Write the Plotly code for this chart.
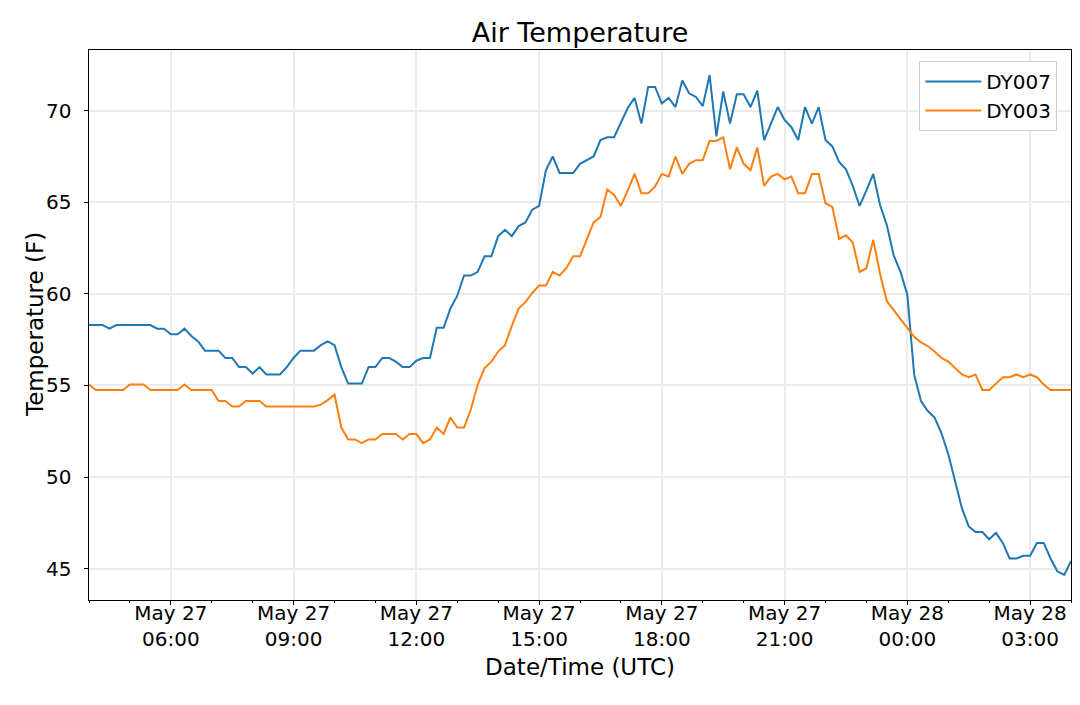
import pandas as pd
import plotly.graph_objects as go

# horários das leituras (a cada 10 minutos, 04:00 do dia 27 até 04:00 do dia 28)
tempos = pd.date_range("2019-05-27 04:00", "2019-05-28 04:00", freq="10min")

# temperatura do ar (F) estação DY007
dy007 = [58.3, 58.3, 58.3, 58.1, 58.3, 58.3, 58.3, 58.3, 58.3, 58.3,
         58.1, 58.1, 57.8, 57.8, 58.1, 57.7, 57.4, 56.9, 56.9, 56.9,
         56.5, 56.5, 56.0, 56.0, 55.65, 56.0, 55.6, 55.6, 55.6, 56.0,
         56.5, 56.9, 56.9, 56.9, 57.2, 57.4, 57.2, 56.0, 55.1, 55.1,
         55.1, 56.0, 56.0, 56.5, 56.5, 56.3, 56.0, 56.0, 56.35, 56.5,
         56.5, 58.15, 58.15, 59.2, 59.9, 61.0, 61.0, 61.2, 62.05, 62.05,
         63.15, 63.5, 63.15, 63.7, 63.9, 64.6, 64.8, 66.75, 67.5, 66.6,
         66.6, 66.6, 67.1, 67.3, 67.5, 68.4, 68.55, 68.55, 69.4, 70.15,
         70.7, 69.3, 71.3, 71.3, 70.4, 70.7, 70.2, 71.65, 70.95, 70.75,
         70.25, 71.95, 68.6, 71.05, 69.3, 70.9, 70.9, 70.2, 71.1, 68.4,
         69.3, 70.2, 69.5, 69.1, 68.4, 70.2, 69.3, 70.2, 68.4, 68.05,
         67.2, 66.8, 65.9, 64.8, 65.65, 66.55, 64.85, 63.75, 62.1, 61.2,
         59.95, 55.6, 54.15, 53.6, 53.25, 52.4, 51.25, 49.85, 48.3, 47.3,
         47.0, 47.0, 46.6, 46.95, 46.4, 45.55, 45.55, 45.7, 45.7, 46.4,
         46.4, 45.55, 44.85, 44.65, 45.4]

# temperatura do ar (F) estação DY003
dy003 = [55.05, 54.75, 54.75, 54.75, 54.75, 54.75, 55.05, 55.05, 55.05, 54.75,
         54.75, 54.75, 54.75, 54.75, 55.05, 54.75, 54.75, 54.75, 54.75, 54.15,
         54.15, 53.85, 53.85, 54.15, 54.15, 54.15, 53.85, 53.85, 53.85, 53.85,
         53.85, 53.85, 53.85, 53.85, 53.95, 54.2, 54.5, 52.7, 52.05, 52.05,
         51.85, 52.05, 52.05, 52.35, 52.35, 52.35, 52.05, 52.35, 52.35, 51.85,
         52.05, 52.7, 52.35, 53.25, 52.7, 52.7, 53.7, 55.05, 55.95, 56.3,
         56.85, 57.2, 58.25, 59.2, 59.55, 60.05, 60.45, 60.45, 61.2, 61.0,
         61.4, 62.05, 62.05, 62.95, 63.9, 64.2, 65.7, 65.4, 64.8, 65.65,
         66.55, 65.5, 65.5, 65.85, 66.55, 66.4, 67.5, 66.55, 67.1, 67.3,
         67.3, 68.35, 68.35, 68.55, 66.8, 68.0, 67.1, 66.75, 68.0, 65.9,
         66.4, 66.55, 66.25, 66.4, 65.5, 65.5, 66.55, 66.55, 64.95, 64.75,
         63.0, 63.2, 62.8, 61.2, 61.4, 62.95, 61.1, 59.6, 59.1, 58.6,
         58.1, 57.65, 57.35, 57.15, 56.85, 56.5, 56.3, 55.95, 55.6, 55.45,
         55.6, 54.75, 54.75, 55.1, 55.45, 55.45, 55.6, 55.45, 55.6, 55.45,
         55.05, 54.75, 54.75, 54.75, 54.75]

# marcas do eixo y
ticks_y = [45, 50, 55, 60, 65, 70]

# margem de 5% em y (igual ao padrão do matplotlib)
ymin = min(dy007 + dy003)
ymax = max(dy007 + dy003)
margem = (ymax - ymin) * 0.05

fig = go.Figure()
fig.add_trace(go.Scatter(x=tempos, y=dy007, mode="lines", name="DY007",
                         line=dict(color="#1f77b4", width=2)))
fig.add_trace(go.Scatter(x=tempos, y=dy003, mode="lines", name="DY003",
                         line=dict(color="#ff7f0e", width=2)))

# rótulos do eixo y como anotações (assim fico com o espaçamento da referência)
for v in ticks_y:
    fig.add_annotation(text=str(v), xref="paper", yref="y", x=-16 / 982, y=v,
                       xanchor="right", yanchor="middle", showarrow=False,
                       font=dict(size=20))

# título do eixo y como anotação
fig.add_annotation(text="Temperature (F)", textangle=-90,
                   xref="paper", yref="paper", x=-54 / 982, y=0.5,
                   xanchor="center", yanchor="middle", showarrow=False,
                   font=dict(size=23))

# a página tem 8px de margem no body, por isso a figura é um pouco menor que a janela
fig.update_layout(
    width=1072, height=697,
    paper_bgcolor="white", plot_bgcolor="white",
    font=dict(family="DejaVu Sans", size=20, color="black"),
    margin=dict(l=81, r=9, t=42, b=105),
    title=dict(text="Air Temperature", x=0.5, xref="paper", xanchor="center",
               y=1 - 25 / 697, yref="container", yanchor="middle",
               font=dict(size=27)),
    legend=dict(x=0.986, y=0.98, xanchor="right", yanchor="top",
                bgcolor="white", bordercolor="#d0d0d0", borderwidth=1,
                itemwidth=56, font=dict(size=20)),
    xaxis=dict(
        title=dict(text="Date/Time (UTC)", font=dict(size=23), standoff=8),
        range=[tempos[0], tempos[-1]],
        tick0="2019-05-27 00:00", dtick=3 * 3600000,
        tickformat="%b %d<br>%H:%M",
        ticks="outside", ticklen=4, tickcolor="black",
        ticklabelstandoff=-9,
        showline=True, linecolor="black", linewidth=1, mirror=True,
        showgrid=True, gridcolor="#ebebeb", gridwidth=1.5,
        zeroline=False,
        minor=dict(dtick=3600000, tick0="2019-05-27 00:00", ticks="outside",
                   ticklen=2, tickcolor="black", showgrid=False),
    ),
    yaxis=dict(
        range=[ymin - margem, ymax + margem],
        tickvals=ticks_y, showticklabels=False,
        ticks="outside", ticklen=4, tickcolor="black",
        showline=True, linecolor="black", linewidth=1, mirror=True,
        showgrid=True, gridcolor="#ebebeb", gridwidth=1.5,
        zeroline=False,
    ),
)

fig.write_html("out.html")
